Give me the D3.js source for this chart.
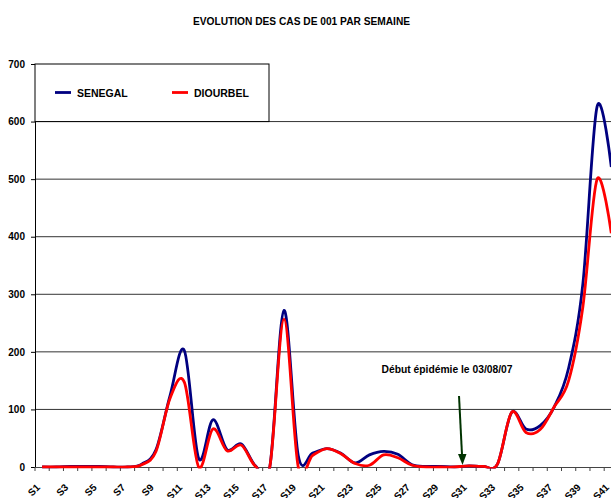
<!DOCTYPE html>
<html>
<head>
<meta charset="utf-8">
<script src="https://cdn.jsdelivr.net/npm/d3@7"></script>
<style>
  body { margin: 0; background: #fff; }
  text { font-family: "Liberation Sans", Arial, sans-serif; font-weight: bold; }
</style>
</head>
<body>
<div id="chart"></div>
<script>
// weeks S1..S41
let weeks = d3.range(1, 42).map((i) => "S" + i);

let senegal = [
  0, 0, 1, 1, 1, 0, 0, 5, 30, 125, 202, 15, 82, 30, 40, 2, 0, 272, 20, 24,
  32, 24, 7, 21, 27, 22, 4, 1, 1, 0, 2, 1, 5, 95, 66, 72, 105, 172, 318, 626,
  521,
];
let diourbel = [
  0, 0, 0, 0, 0, 0, 0, 4, 27, 120, 147, 0, 66, 28, 38, 1, 0, 257, 0, 20,
  32, 23, 6, 3, 21, 16, 3, 0, 0, 0, 2, 1, 5, 95, 60, 65, 105, 150, 278, 500,
  406,
];

let y_ticks = [0, 100, 200, 300, 400, 500, 600, 700];
let grid_values = [100, 200, 300, 400, 500, 600];

let title = "EVOLUTION DES CAS DE 001 PAR SEMAINE";
let note = "Début épidémie le 03/08/07";
let note_week = "S31";

let width = 611,
  height = 498;
let margin = { top: 64, left: 35, bottom: 31 };
let band = 14.23;

let svg = d3
  .select("#chart")
  .append("svg")
  .attr("width", width)
  .attr("height", height);

// scales
let x = d3
  .scaleBand()
  .domain(weeks)
  .range([margin.left, margin.left + band * weeks.length]);
let y = d3
  .scaleLinear()
  .domain([0, 700])
  .range([height - margin.bottom, margin.top]);

let xc = (d) => x(d) + x.bandwidth() / 2;

// title
svg
  .append("text")
  .attr("x", 301.5)
  .attr("y", 24.5)
  .attr("text-anchor", "middle")
  .attr("font-size", 10.2)
  .text(title);

// gridlines
svg
  .selectAll(".grid")
  .data(grid_values)
  .enter()
  .append("line")
  .attr("class", "grid")
  .attr("x1", margin.left)
  .attr("x2", width)
  .attr("y1", (d) => y(d))
  .attr("y2", (d) => y(d))
  .attr("stroke", "#333")
  .attr("stroke-width", 1);

// y axis
let y_axis = svg
  .append("g")
  .attr("transform", "translate(" + margin.left + ",0)")
  .call(d3.axisLeft(y).tickValues(y_ticks).tickSize(4).tickPadding(6));
y_axis.select(".domain").attr("stroke", "#000");
y_axis.selectAll(".tick line").attr("stroke", "#000");
y_axis.selectAll("text").attr("font-size", 10).attr("font-family", null);

// x axis
let x_axis = svg
  .append("g")
  .attr("transform", "translate(0," + y(0) + ")")
  .call(
    d3
      .axisBottom(x)
      .tickValues(weeks.filter((d, i) => i % 2 == 0))
      .tickSize(0)
      .tickSizeOuter(0)
  );
x_axis.select(".domain").attr("stroke", "#444");
x_axis
  .selectAll("text")
  .attr("font-size", 10)
  .attr("font-family", null)
  .attr("text-anchor", "end")
  .attr("x", 0)
  .attr("y", 0)
  .attr("dy", "0.35em")
  .attr("transform", "translate(-4,18.5) rotate(-45)");

// tick marks between categories
svg
  .selectAll(".xtick")
  .data(d3.range(weeks.length + 1))
  .enter()
  .append("line")
  .attr("class", "xtick")
  .attr("x1", (i) => margin.left + i * x.step())
  .attr("x2", (i) => margin.left + i * x.step())
  .attr("y1", y(0))
  .attr("y2", y(0) + 4)
  .attr("stroke", "#444");

// clip lines below zero like the plot area does
svg
  .append("clipPath")
  .attr("id", "plot-clip")
  .append("rect")
  .attr("x", 0)
  .attr("y", 0)
  .attr("width", width)
  .attr("height", y(0) + 1.5);

let line = (values) =>
  d3
    .line()
    .x((d, i) => xc(weeks[i]))
    .y((d) => y(d))
    .curve(d3.curveCatmullRom.alpha(0))(values);

svg
  .append("path")
  .attr("d", line(senegal))
  .attr("fill", "none")
  .attr("stroke", "#000080")
  .attr("stroke-width", 2.8)
  .attr("clip-path", "url(#plot-clip)");

svg
  .append("path")
  .attr("d", line(diourbel))
  .attr("fill", "none")
  .attr("stroke", "#ff0000")
  .attr("stroke-width", 2.8)
  .attr("clip-path", "url(#plot-clip)");

// legend
let legend = svg.append("g");
legend
  .append("rect")
  .attr("x", margin.left)
  .attr("y", margin.top)
  .attr("width", 234)
  .attr("height", y(600) - margin.top)
  .attr("fill", "#fff")
  .attr("stroke", "#000");

let legend_items = [
  { name: "SENEGAL", color: "#000080", x: 55 },
  { name: "DIOURBEL", color: "#ff0000", x: 172 },
];
legend_items.forEach((d) => {
  legend
    .append("line")
    .attr("x1", d.x)
    .attr("x2", d.x + 16)
    .attr("y1", 92.5)
    .attr("y2", 92.5)
    .attr("stroke", d.color)
    .attr("stroke-width", 2.8);
  legend
    .append("text")
    .attr("x", d.x + 22)
    .attr("y", 96.5)
    .attr("font-size", 10.5)
    .text(d.name);
});

// annotation
svg
  .append("text")
  .attr("x", 447)
  .attr("y", 372.5)
  .attr("text-anchor", "middle")
  .attr("font-size", 10.3)
  .text(note);

let tip_x = xc(note_week) - 6.5;
svg
  .append("line")
  .attr("x1", tip_x - 3.5)
  .attr("y1", 396)
  .attr("x2", tip_x - 0.5)
  .attr("y2", 455)
  .attr("stroke", "#003300")
  .attr("stroke-width", 2);
svg
  .append("path")
  .attr(
    "d",
    "M" + (tip_x - 4.5) + ",454 L" + (tip_x + 4) + ",454 L" + tip_x + ",465 Z"
  )
  .attr("fill", "#003300");
</script>
</body>
</html>
